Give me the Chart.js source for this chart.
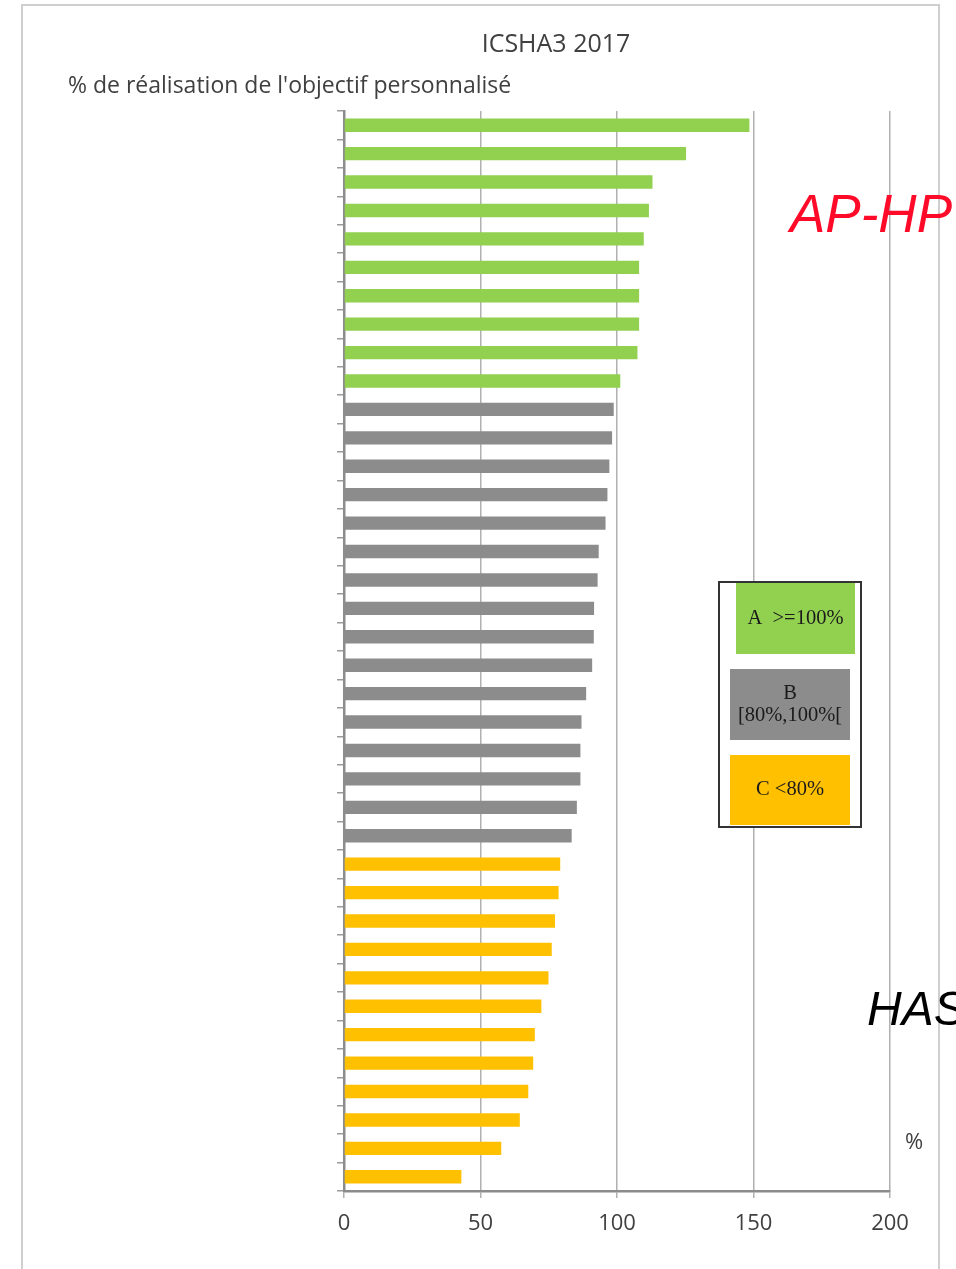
<!DOCTYPE html>
<html>
<head>
<meta charset="utf-8">
<script src="https://cdn.jsdelivr.net/npm/chart.js@4/dist/chart.umd.min.js"></script>
<style>
  html, body { margin: 0; padding: 0; background: #ffffff; }
  #wrap { width: 956px; height: 1269px; position: relative; }
</style>
</head>
<body>
<div id="wrap"><canvas id="c" width="956" height="1269"></canvas></div>
<script>
// Établissements classés par taux de réalisation de l'objectif personnalisé
const rangs = ['1','2','3','4','5','6','7','8','9','10','11','12','13','14','15','16','17','18','19',
  '20','21','22','23','24','25','26','27','28','29','30','31','32','33','34','35','36','37','38'];

// Classe A : >= 100 %
const classeA = [148.5, 125.3, 113.0, 111.7, 109.8, 108.1, 108.1, 108.1, 107.5, 101.2];
// Classe B : [80 %, 100 %[
const classeB = [98.8, 98.2, 97.2, 96.5, 95.8, 93.3, 92.9, 91.6, 91.5, 90.9, 88.7, 87.0, 86.6, 86.6, 85.3, 83.4];
// Classe C : < 80 %
const classeC = [79.2, 78.6, 77.3, 76.1, 74.9, 72.3, 69.9, 69.3, 67.5, 64.4, 57.6, 43.0];

const graduations = [0, 50, 100, 150, 200];

const titre = 'ICSHA3 2017';
const titreAxe = "% de réalisation de l'objectif personnalisé";
const legendeLignes = [['A  >=100%'], ['B', '[80%,100%['], ['C <80%']];

const couleurs = { A: '#92d050', B: '#8c8c8c', C: '#ffc000' };

const valeurs = [...classeA, ...classeB, ...classeC];
const teintes = [
  ...classeA.map(() => couleurs.A),
  ...classeB.map(() => couleurs.B),
  ...classeC.map(() => couleurs.C)
];

// Cadre, titres, légende et annotations dessinés sur le canevas
const decor = {
  id: 'decor',
  beforeDraw(chart) {
    const ctx = chart.ctx;
    ctx.save();
    ctx.strokeStyle = '#cfcfcf';
    ctx.lineWidth = 2;
    ctx.beginPath();
    ctx.moveTo(22, 1269);
    ctx.lineTo(22, 5);
    ctx.lineTo(939, 5);
    ctx.lineTo(939, 1269);
    ctx.stroke();

    ctx.fillStyle = '#404040';
    ctx.textBaseline = 'alphabetic';
    ctx.textAlign = 'center';
    ctx.font = '25px "Open Sans"';
    ctx.fillText(titre, 556, 52);
    ctx.textAlign = 'left';
    ctx.font = '23px "Open Sans"';
    ctx.fillText(titreAxe, 68, 93);
    ctx.restore();
  },
  afterDraw(chart) {
    const ctx = chart.ctx;
    ctx.save();
    // Légende des classes
    ctx.fillStyle = '#ffffff';
    ctx.fillRect(719, 582, 142, 245);
    ctx.strokeStyle = '#333333';
    ctx.lineWidth = 2;
    ctx.strokeRect(719, 582, 142, 245);

    const boites = [
      { x: 736, y: 583, w: 119, h: 71, c: couleurs.A },
      { x: 730, y: 669, w: 120, h: 71, c: couleurs.B },
      { x: 730, y: 755, w: 120, h: 70, c: couleurs.C }
    ];
    ctx.font = '20.5px "Liberation Serif"';
    ctx.textAlign = 'center';
    ctx.textBaseline = 'middle';
    boites.forEach((b, i) => {
      ctx.fillStyle = b.c;
      ctx.fillRect(b.x, b.y, b.w, b.h);
      ctx.fillStyle = '#1a1a1a';
      const lignes = legendeLignes[i];
      const cx = b.x + b.w / 2;
      const cy = b.y + b.h / 2;
      const pas = 22;
      lignes.forEach((t, j) => {
        ctx.fillText(t, cx, cy + (j - (lignes.length - 1) / 2) * pas);
      });
    });

    // Annotations
    ctx.textAlign = 'left';
    ctx.textBaseline = 'alphabetic';
    ctx.font = 'italic 53px "Liberation Sans"';
    ctx.fillStyle = '#ff0a28';
    ctx.fillText('AP-HP', 790, 232);
    ctx.font = 'italic 48px "Liberation Sans"';
    ctx.fillStyle = '#000000';
    ctx.fillText('HAS', 867, 1025);
    ctx.font = '22px "Open Sans"';
    ctx.fillStyle = '#404040';
    ctx.fillText('%', 905, 1149);
    ctx.restore();
  }
};

new Chart(document.getElementById('c'), {
  type: 'bar',
  data: {
    labels: rangs,
    datasets: [{
      data: valeurs,
      backgroundColor: teintes,
      borderWidth: 0,
      categoryPercentage: 1,
      barPercentage: 0.47
    }]
  },
  options: {
    indexAxis: 'y',
    responsive: false,
    animation: false,
    devicePixelRatio: 1,
    layout: { padding: { left: 336, right: 66, top: 111, bottom: 28 } },
    plugins: { legend: { display: false }, tooltip: { enabled: false }, title: { display: false } },
    scales: {
      x: {
        type: 'linear',
        min: 0,
        max: 200,
        afterBuildTicks(scale) { scale.ticks = graduations.map(v => ({ value: v })); },
        afterFit(scale) { scale.height = 50; },
        grid: { color: '#b0b0b0', lineWidth: 1.5, tickLength: 7, tickColor: '#b0b0b0' },
        border: { color: '#8c8c8c', width: 2.5 },
        ticks: { color: '#404040', font: { family: 'Open Sans', size: 22 }, padding: 13 }
      },
      y: {
        type: 'category',
        afterFit(scale) { scale.width = 8; },
        grid: { drawOnChartArea: false, offset: true, tickLength: 7, tickColor: '#9a9a9a', lineWidth: 1.5 },
        border: { color: '#8c8c8c', width: 2.5 },
        ticks: { display: false }
      }
    }
  },
  plugins: [decor]
});
</script>
</body>
</html>
